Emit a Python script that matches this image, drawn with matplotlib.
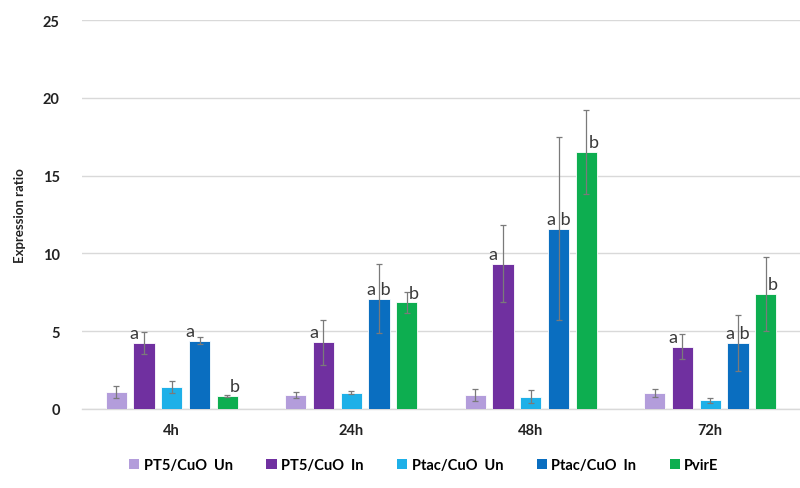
import matplotlib
matplotlib.use("Agg")
import matplotlib.pyplot as plt
from matplotlib.patches import Patch
import numpy as np

plt.rcParams['font.family'] = ['Lato', 'DejaVu Sans']

categories = ["4h", "24h", "48h", "72h"]
series = ["PT5/CuO  Un", "PT5/CuO  In", "Ptac/CuO  Un", "Ptac/CuO  In", "PvirE"]
colors = ["#B39DDB", "#7030A0", "#1EB0E8", "#0A6EC0", "#0DAE50"]

values = [
    [1.1, 0.9, 0.9, 1.05],    # PT5/CuO Un
    [4.25, 4.3, 9.35, 4.0],   # PT5/CuO In
    [1.4, 1.05, 0.8, 0.55],   # Ptac/CuO Un
    [4.4, 7.1, 11.6, 4.25],   # Ptac/CuO In
    [0.85, 6.85, 16.5, 7.4],  # PvirE
]
errors = [
    [0.4, 0.2, 0.4, 0.25],
    [0.7, 1.45, 2.5, 0.8],
    [0.4, 0.1, 0.4, 0.15],
    [0.25, 2.2, 5.9, 1.8],
    [0.05, 0.65, 2.7, 2.4],
]
letters = [
    [None, None, None, None],
    ["a", "a", "a", "a"],
    [None, None, None, None],
    ["a", "a b", "a b", "a b"],
    ["b", "b", "b", "b"],
]

fig = plt.figure(figsize=(8, 4.89), dpi=100)
ax = fig.add_axes([0.1025, 0.1616, 0.8975, 0.7954])

x = np.arange(len(categories))
pitch = 0.155
width = 0.118
letter_shift = {"a": -0.055, "b": 0.04, "a b": 0.0}
for i, (name, vals, errs, col) in enumerate(zip(series, values, errors, colors)):
    xs = x + (i - 2) * pitch
    ax.bar(xs, vals, width=width, color=col, edgecolor="white", linewidth=0.6,
           zorder=3, label=name)
    ax.errorbar(xs, vals, yerr=errs, fmt="none", ecolor="#7a7a7a",
                elinewidth=0.9, capsize=2.5, capthick=0.9, zorder=4)
    for xi, v, lab in zip(xs, vals, letters[i]):
        if lab is None:
            continue
        ax.text(xi + letter_shift[lab], v + 0.12, lab, ha="center", va="bottom",
                fontsize=13, color="#3a3a3a", zorder=5)

ax.set_xlim(-0.5, len(categories) - 0.5)
ax.set_ylim(0, 25)
ax.set_yticks([0, 5, 10, 15, 20, 25])
ax.set_xticks(x)
ax.set_xticklabels(categories)
ax.yaxis.grid(True, color="#D9D9D9", linewidth=1.0, zorder=0)
ax.set_axisbelow(True)
for s in ["top", "right", "left"]:
    ax.spines[s].set_visible(False)
ax.spines["bottom"].set_color("#D9D9D9")
ax.spines["bottom"].set_linewidth(1.0)
ax.tick_params(axis="both", length=0, labelsize=10.5, colors="#222222")
ax.tick_params(axis="y", pad=16)
ax.tick_params(axis="x", pad=10)
for t in ax.get_xticklabels() + ax.get_yticklabels():
    t.set_fontweight("bold")
ax.set_ylabel("Expression ratio", fontsize=9.5, fontweight="bold", color="#222222",
              labelpad=12)

handles = [Patch(facecolor=c, edgecolor="none") for c in colors]
fig.legend(handles, series, loc="center", bbox_to_anchor=(0.53, 1 - 466 / 489),
           ncol=5, frameon=False, handlelength=0.7, handleheight=0.7,
           handletextpad=0.3, columnspacing=2.3,
           prop={"weight": "bold", "size": 10.5})

fig.savefig("out.png", dpi=100, facecolor="white")
